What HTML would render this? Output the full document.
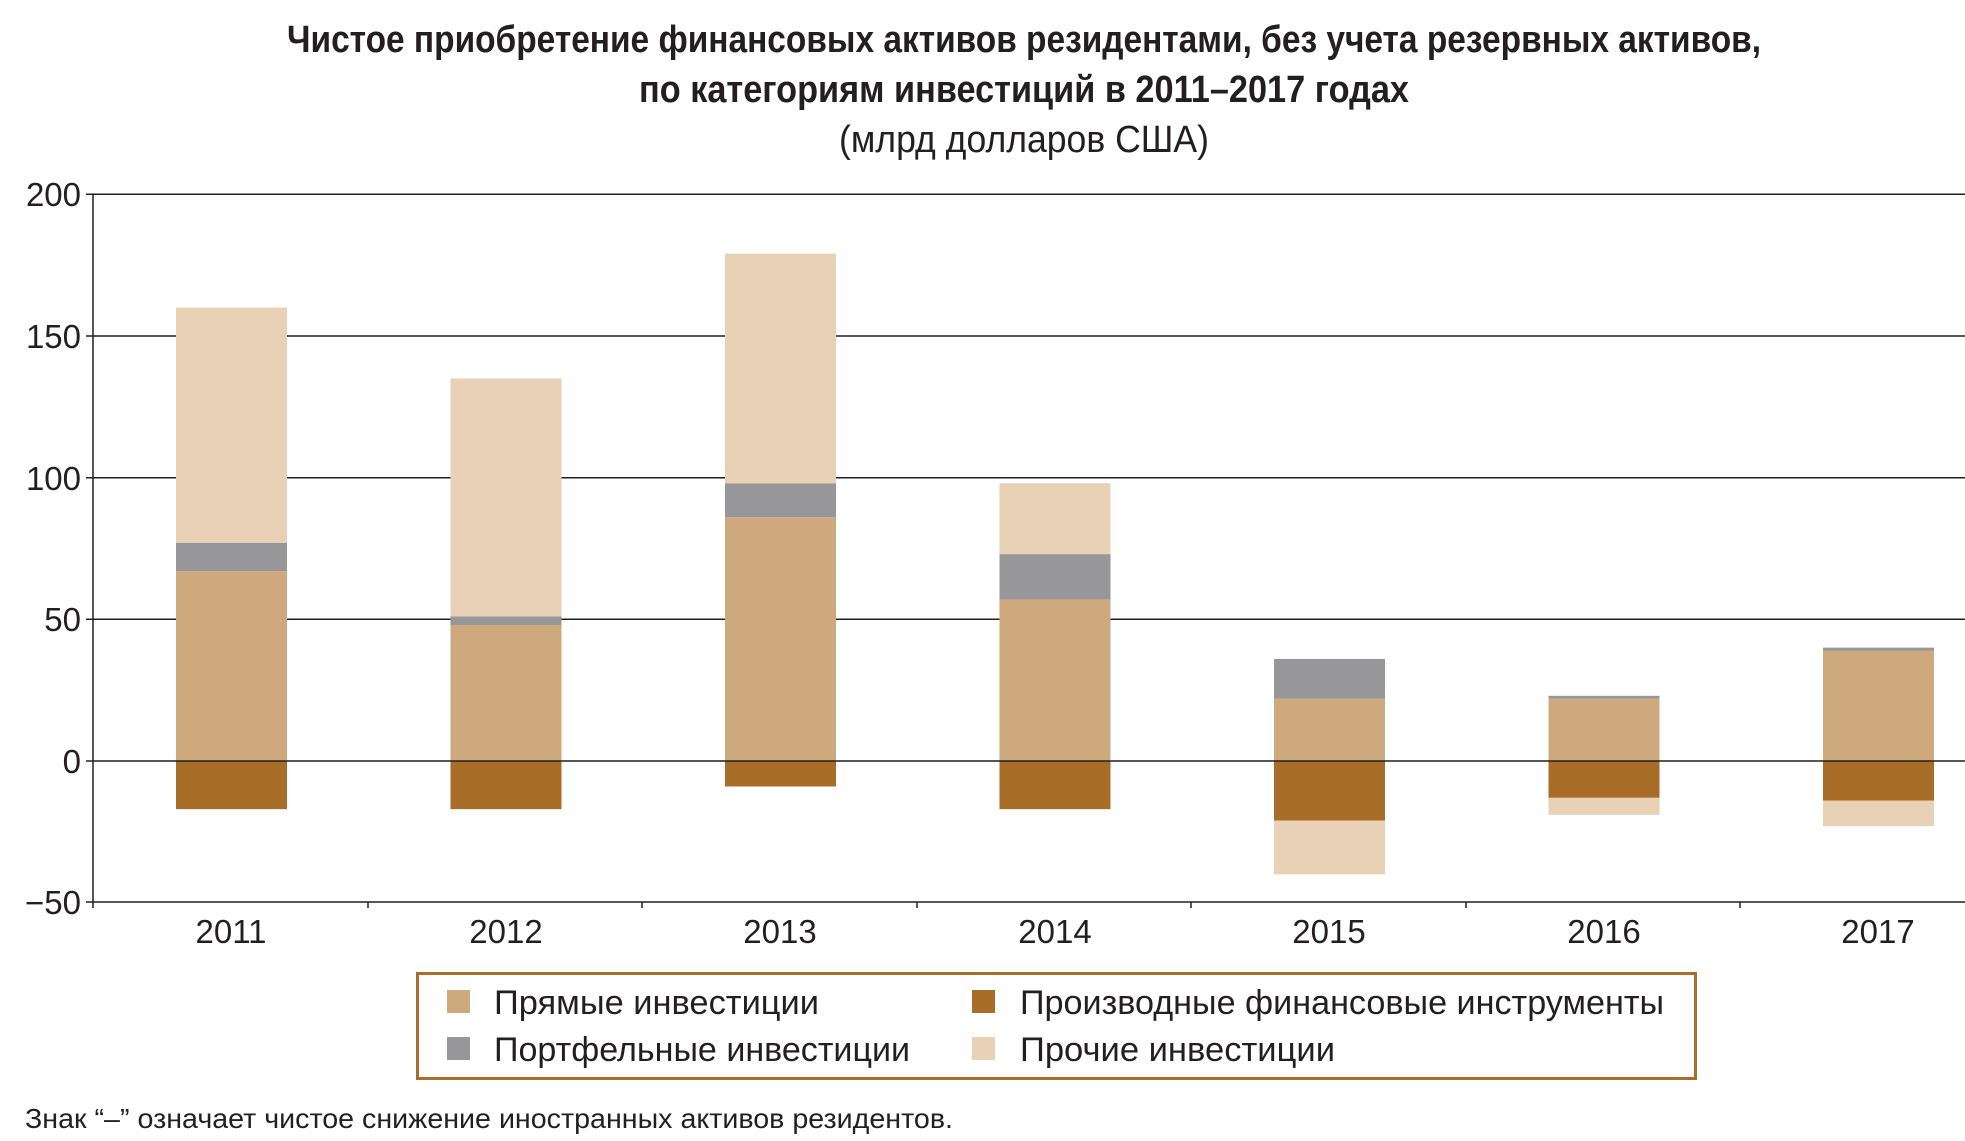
<!DOCTYPE html>
<html><head><meta charset="utf-8"><style>
html,body{margin:0;padding:0;background:#fff;}
svg{display:block;}
</style></head><body>
<svg width="1965" height="1141" viewBox="0 0 1965 1141" xmlns="http://www.w3.org/2000/svg">
<g font-family="'Liberation Sans Narrow','Liberation Sans',sans-serif" fill="#231f20" text-anchor="middle">
<text x="1024" y="52" font-size="38" font-weight="bold" textLength="1474" lengthAdjust="spacingAndGlyphs">Чистое приобретение финансовых активов резидентами, без учета резервных активов,</text>
<text x="1024" y="102" font-size="38" font-weight="bold" textLength="770" lengthAdjust="spacingAndGlyphs">по категориям инвестиций в 2011–2017 годах</text>
<text x="1024" y="152" font-size="38" textLength="370" lengthAdjust="spacingAndGlyphs">(млрд долларов США)</text>
</g>
<g stroke="#231f20" stroke-width="1.5">
<line x1="86" y1="194.3" x2="1965" y2="194.3"/>
<line x1="86" y1="336" x2="1965" y2="336"/>
<line x1="86" y1="477.7" x2="1965" y2="477.7"/>
<line x1="86" y1="619.3" x2="1965" y2="619.3"/>
<line x1="86" y1="902" x2="1965" y2="902"/>
<line x1="93" y1="194" x2="93" y2="908"/>
<line x1="368" y1="902" x2="368" y2="908"/>
<line x1="642" y1="902" x2="642" y2="908"/>
<line x1="917" y1="902" x2="917" y2="908"/>
<line x1="1191" y1="902" x2="1191" y2="908"/>
<line x1="1466" y1="902" x2="1466" y2="908"/>
<line x1="1740" y1="902" x2="1740" y2="908"/>
</g>
<g id="bars"></g>
<line x1="86" y1="761" x2="1965" y2="761" stroke="#231f20" stroke-width="1.5"/>
<g font-family="'Liberation Sans',sans-serif" font-size="33" fill="#231f20" text-anchor="end">
<text x="81" y="206">200</text>
<text x="81" y="348">150</text>
<text x="81" y="490">100</text>
<text x="81" y="631">50</text>
<text x="81" y="773">0</text>
<text x="81" y="914">−50</text>
</g>
<g font-family="'Liberation Sans',sans-serif" font-size="33" fill="#231f20" text-anchor="middle">
<text x="231" y="943">2011</text>
<text x="506" y="943">2012</text>
<text x="780" y="943">2013</text>
<text x="1055" y="943">2014</text>
<text x="1329" y="943">2015</text>
<text x="1604" y="943">2016</text>
<text x="1878" y="943">2017</text>
</g>
<rect x="417.5" y="973.5" width="1278" height="105" fill="none" stroke="#a96f28" stroke-width="3"/>
<rect x="447" y="990" width="23" height="23" fill="#cfa97e"/>
<rect x="447" y="1037" width="23" height="23" fill="#97979a"/>
<rect x="972" y="990" width="23" height="23" fill="#a86e28"/>
<rect x="972" y="1037" width="23" height="23" fill="#e8d1b5"/>
<g font-family="'Liberation Sans',sans-serif" font-size="34" fill="#231f20">
<text x="494" y="1014" textLength="325" lengthAdjust="spacingAndGlyphs">Прямые инвестиции</text>
<text x="494" y="1061" textLength="416" lengthAdjust="spacingAndGlyphs">Портфельные инвестиции</text>
<text x="1020" y="1014" textLength="644" lengthAdjust="spacingAndGlyphs">Производные финансовые инструменты</text>
<text x="1020" y="1061" textLength="315" lengthAdjust="spacingAndGlyphs">Прочие инвестиции</text>
</g>
<text x="25" y="1128" font-family="'Liberation Sans Narrow','Liberation Sans',sans-serif" font-size="28" fill="#231f20" textLength="928" lengthAdjust="spacingAndGlyphs">Знак “–” означает чистое снижение иностранных активов резидентов.</text>
<script>
(function(){
var d=[[67,10,83,-17,0],[48,3,84,-17,0],[86,12,81,-9,0],[57,16,25,-17,0],[22,14,0,-21,-19],[22,1,0,-13,-6],[39,1,0,-14,-9]];
var g=document.getElementById('bars'),ns='http://www.w3.org/2000/svg';
function r(x,v0,v1,c){var y0=761-v1*2.834,y1=761-v0*2.834;var e=document.createElementNS(ns,'rect');e.setAttribute('x',x);e.setAttribute('y',y0);e.setAttribute('width',111);e.setAttribute('height',Math.max(0,y1-y0));e.setAttribute('fill',c);g.appendChild(e);}
d.forEach(function(a,i){var x=176+i*274.5;
r(x,0,a[0],'#cfa97e');r(x,a[0],a[0]+a[1],'#97979a');r(x,a[0]+a[1],a[0]+a[1]+a[2],'#e8d1b5');
r(x,a[3],0,'#a86e28');r(x,a[3]+a[4],a[3],'#e8d1b5');});
})();
</script>
</svg>
</body></html>
